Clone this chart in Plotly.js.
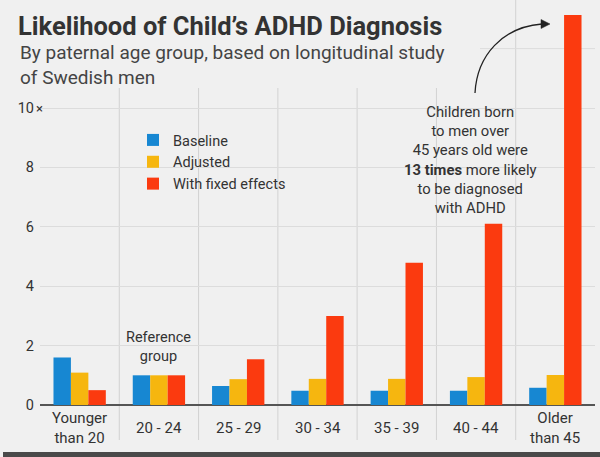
<!DOCTYPE html>
<html>
<head>
<meta charset="utf-8">
<script src="https://cdn.plot.ly/plotly-3.0.1.min.js"></script>
<style>html,body{margin:0;padding:0;background:#f0f0f0;}#chart{width:600px;height:457px;}</style>
</head>
<body>
<div id="chart"></div>
<script>
const categories = ["Younger<br>than 20", "20 - 24", "25 - 29", "30 - 34", "35 - 39", "40 - 44", "Older<br>than 45"];
const baseline = [1.6, 1.0, 0.64, 0.48, 0.48, 0.48, 0.58];
const adjusted = [1.09, 1.0, 0.87, 0.88, 0.88, 0.94, 1.01];
const fixedEffects = [0.5, 1.0, 1.54, 3.0, 4.79, 6.1, 13.13];
const seriesNames = ["Baseline", "Adjusted", "With fixed effects"];
const yTickVals = [0, 2, 4, 6, 8, 10];
const yTickText = ["0", "2", "4", "6", "8", "10"];

const W = 600, H = 457, ML = 40, MR = 5, MT = 12, MB = 52;
const PW = W - ML - MR, PH = H - MT - MB;
const px = x => (x - ML) / PW;
const py = y => (H - MB - y) / PH;

const colors = ["#1787d2", "#f6b60f", "#fb3a0f"];
const font = "Roboto, 'Liberation Sans', sans-serif";

const traces = [baseline, adjusted, fixedEffects].map((vals, i) => ({
  type: "bar",
  x: categories,
  y: vals,
  name: seriesNames[i],
  marker: {color: colors[i], line: {width: 0}},
  hoverinfo: "x+y+name"
}));

const shapes = [];
for (let i = 0; i < categories.length - 1; i++) {
  shapes.push({
    type: "line", xref: "x", yref: "paper",
    x0: i + 0.5, x1: i + 0.5,
    y0: py(440), y1: (i === 5) ? py(0) : py(88),
    line: {color: "#d2d2d2", width: 1}, layer: "below"
  });
}
// partial gridline at 12
shapes.push({type: "line", xref: "paper", yref: "y", x0: px(480), x1: 1, y0: 12, y1: 12,
  line: {color: "#dcdcdc", width: 1}, layer: "below"});
// curved arrow
shapes.push({type: "path", xref: "paper", yref: "paper",
  path: `M${px(475)},${py(93)} C${px(477)},${py(55)} ${px(503)},${py(27)} ${px(542)},${py(24)}`,
  line: {color: "#222", width: 1.3}});
shapes.push({type: "path", xref: "paper", yref: "paper",
  path: `M${px(550)},${py(24)} L${px(541)},${py(19.5)} L${px(541)},${py(28.5)} Z`,
  fillcolor: "#222", line: {color: "#222", width: 0.5}});
// bottom frame band
shapes.push({type: "rect", xref: "paper", yref: "paper",
  x0: px(3), x1: px(600), y0: py(457), y1: py(452),
  fillcolor: "#4a4a4a", line: {width: 0}});

const annotations = [];
categories.forEach((c, i) => {
  annotations.push({
    x: c, xref: "x", y: py(428.5), yref: "paper",
    text: c, showarrow: false, xanchor: "center", yanchor: "middle",
    font: {family: font, size: 15, color: "#333"}
  });
});
annotations.push({
  x: categories[1], xref: "x", y: adjusted[1], yref: "y", yshift: 8,
  text: "Reference<br>group", showarrow: false, yanchor: "bottom",
  font: {family: font, size: 14.5, color: "#333"}
});
annotations.push({
  x: px(470), xref: "paper", y: py(101), yref: "paper",
  text: "Children born<br>to men over<br>45 years old were<br><b>13 times</b> more likely<br>to be diagnosed<br>with ADHD",
  showarrow: false, xanchor: "center", yanchor: "top", align: "center",
  font: {family: font, size: 14.8, color: "#333"}
});
annotations.push({
  x: px(33.5), xref: "paper", y: 10, yref: "y",
  text: "×", showarrow: false, xanchor: "left", yanchor: "middle",
  font: {family: font, size: 13, color: "#333"}
});
// subtitle
annotations.push({
  x: px(18), xref: "paper", y: py(39), yref: "paper",
  text: "By paternal age group, based on longitudinal study<br>of Swedish men",
  showarrow: false, xanchor: "left", yanchor: "top", align: "left",
  font: {family: font, size: 19, color: "#444"}
});

const layout = {
  width: W, height: H,
  margin: {l: ML, r: MR, t: MT, b: MB},
  paper_bgcolor: "#f0f0f0",
  plot_bgcolor: "rgba(0,0,0,0)",
  font: {family: font, color: "#333"},
  title: {
    text: "<b>Likelihood of Child’s ADHD Diagnosis</b>",
    xref: "container", x: 18 / W, xanchor: "left",
    yref: "container", y: 1 - 17 / H, yanchor: "top",
    font: {family: font, size: 25.5, color: "#333"}
  },
  barmode: "group",
  bargap: 0.34,
  bargroupgap: 0,
  xaxis: {
    type: "category",
    showticklabels: false,
    showgrid: false,
    zeroline: false,
    showline: false,
    ticks: "",
    range: [-0.5, 6.5],
    fixedrange: true
  },
  yaxis: {
    range: [0, PH / 29.7],
    tickvals: yTickVals,
    ticktext: yTickText,
    showgrid: true,
    gridcolor: "#dcdcdc",
    gridwidth: 1,
    zeroline: true,
    zerolinecolor: "#555",
    zerolinewidth: 2,
    ticks: "",
    ticklabelstandoff: 5,
    tickfont: {family: font, size: 14.5, color: "#333"},
    fixedrange: true
  },
  legend: {
    x: px(133), xanchor: "left",
    y: py(124), yanchor: "top",
    bgcolor: "rgba(0,0,0,0)",
    font: {family: font, size: 14.5, color: "#333"},
    itemclick: false, itemdoubleclick: false
  },
  showlegend: true,
  shapes: shapes,
  annotations: annotations
};

Plotly.newPlot("chart", traces, layout, {displayModeBar: false, staticPlot: false});
</script>
</body>
</html>
